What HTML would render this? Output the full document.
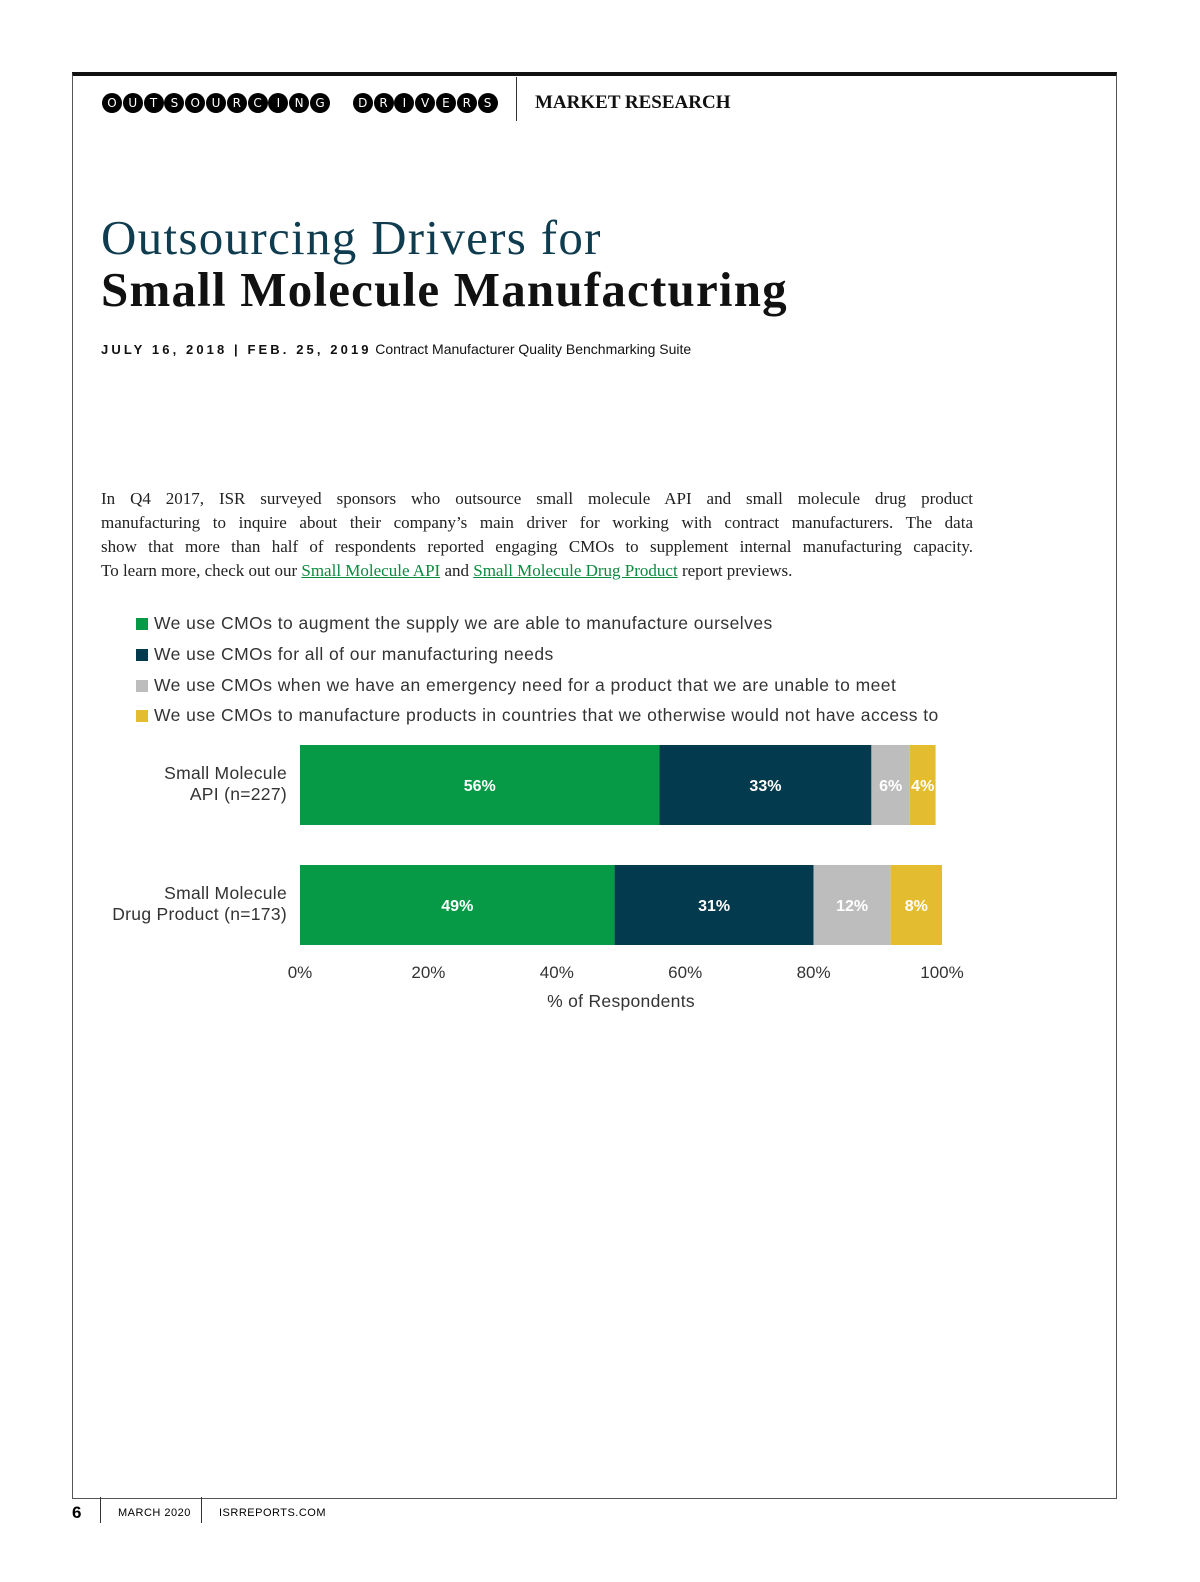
<!DOCTYPE html>
<html><head><meta charset="utf-8"><style>
body{margin:0;width:1200px;height:1582px;background:#fff;position:relative;font-family:"Liberation Sans",sans-serif;overflow:hidden}
.abs{position:absolute}
.c{display:inline-block;width:20px;height:20px;border-radius:50%;background:#000;color:#fff;font-size:12px;line-height:20px;text-align:center;margin-right:0.8px;font-family:"DejaVu Sans",sans-serif}
.serif{font-family:"Liberation Serif",serif}
.ln{font-size:17px;line-height:24px;height:24px;color:#222;text-align:justify;text-align-last:justify;white-space:nowrap;font-family:"Liberation Serif",serif}
.ln.last{text-align-last:left}
a{color:#0a8a3e}
.leg{font-size:17.5px;letter-spacing:0.45px;color:#333;position:absolute;left:136px}
.leg span{display:inline-block;width:12px;height:12px;margin-right:6px;vertical-align:-1px}
</style></head><body>
<div class="abs" style="left:72px;top:72px;width:1043px;height:1422px;border:1px solid #555;border-top:4px solid #111"></div>
<div class="abs" style="left:102px;top:93px;white-space:nowrap"><span class="c">O</span><span class="c">U</span><span class="c">T</span><span class="c">S</span><span class="c">O</span><span class="c">U</span><span class="c">R</span><span class="c">C</span><span class="c">I</span><span class="c">N</span><span class="c">G</span><span style="display:inline-block;width:22px"></span><span class="c">D</span><span class="c">R</span><span class="c">I</span><span class="c">V</span><span class="c">E</span><span class="c">R</span><span class="c">S</span></div>
<div class="abs" style="left:516px;top:77px;width:1px;height:44px;background:#333"></div>
<div class="abs serif" style="left:535px;top:92px;font-size:19px;font-weight:bold;color:#111">MARKET RESEARCH</div>
<div class="abs serif" style="left:101px;top:209px;font-size:49px;letter-spacing:1.3px;color:#0f3d4f">Outsourcing Drivers for</div>
<div class="abs serif" style="left:101px;top:261px;font-size:49px;letter-spacing:1.2px;font-weight:bold;color:#111">Small Molecule Manufacturing</div>
<div class="abs" style="left:101px;top:341px;font-size:13px;color:#111;white-space:nowrap"><b style="letter-spacing:3.1px">JULY 16, 2018 | FEB. 25, 2019</b> <span style="font-size:14px">Contract Manufacturer Quality Benchmarking Suite</span></div>
<div class="abs" style="left:101px;top:487px;width:872px">
<div class="ln">In Q4 2017, ISR surveyed sponsors who outsource small molecule API and small molecule drug product</div>
<div class="ln">manufacturing to inquire about their company’s main driver for working with contract manufacturers. The data</div>
<div class="ln">show that more than half of respondents reported engaging CMOs to supplement internal manufacturing capacity.</div>
<div class="ln last">To learn more, check out our <a style="text-decoration:underline">Small Molecule API</a> and <a style="text-decoration:underline">Small Molecule Drug Product</a> report previews.</div>
</div>
<div class="leg" style="top:613px"><span style="background:#069a47"></span>We use CMOs to augment the supply we are able to manufacture ourselves</div>
<div class="leg" style="top:644px"><span style="background:#033a4d"></span>We use CMOs for all of our manufacturing needs</div>
<div class="leg" style="top:675px"><span style="background:#bdbdbd"></span>We use CMOs when we have an emergency need for a product that we are unable to meet</div>
<div class="leg" style="top:705px"><span style="background:#e3bd2f"></span>We use CMOs to manufacture products in countries that we otherwise would not have access to</div>
<svg class="abs" style="left:0;top:0" width="1200" height="1582" id="chart"></svg>
<div class="abs" style="left:72px;top:1503px;font-size:17px;font-weight:bold">6</div>
<div class="abs" style="left:100px;top:1497px;width:1px;height:26px;background:#333"></div>
<div class="abs" style="left:118px;top:1507px;font-size:11px;letter-spacing:0.5px">MARCH 2020</div>
<div class="abs" style="left:201px;top:1497px;width:1px;height:26px;background:#333"></div>
<div class="abs" style="left:219px;top:1507px;font-size:11px;letter-spacing:0.5px">ISRREPORTS.COM</div>
<script>
const categories=[["Small Molecule","API (n=227)"],["Small Molecule","Drug Product (n=173)"]];
const augment=[56,49];
const allNeeds=[33,31];
const emergency=[6,12];
const countries=[4,8];
const ticks=[0,20,40,60,80,100];
const series=[augment,allNeeds,emergency,countries];
const colors=["#069a47","#033a4d","#bdbdbd","#e3bd2f"];
const names=["augment","all","emergency","countries"];
const svg=document.getElementById('chart');const NS="http://www.w3.org/2000/svg";
const x0=300,x1=942;const xs=v=>x0+(x1-x0)*v/100;
const rowTop=[745,865],bh=80;
function el(t,a,txt){const e=document.createElementNS(NS,t);for(const k in a)e.setAttribute(k,a[k]);if(txt!=null)e.textContent=txt;svg.appendChild(e);return e;}
categories.forEach((c,i)=>{
 let acc=0;const y=rowTop[i];
 series.forEach((s,j)=>{
  const r=el('rect',{x:xs(acc),y:y,width:xs(acc+s[i])-xs(acc),height:bh,fill:colors[j]});
  
  
  const t=el('text',{x:(xs(acc)+xs(acc+s[i]))/2,y:y+bh/2+6,'text-anchor':'middle','font-size':16,'font-weight':'bold',fill:'#fff','font-family':'Liberation Sans'},s[i]+'%');
  
  
  acc+=s[i];
 });
 c.forEach((ln,k)=>{const t=el('text',{x:287,y:y+34+k*21,'text-anchor':'end','font-size':17.5,'letter-spacing':0.3,fill:'#333','font-family':'Liberation Sans'},ln);
  
  });
});
ticks.forEach(v=>{const t=el('text',{x:xs(v),y:978,'text-anchor':'middle','font-size':17,fill:'#333','font-family':'Liberation Sans'},v+'%');
 
 });
const xt=el('text',{x:621,y:1007,'text-anchor':'middle','font-size':17.5,'letter-spacing':0.3,fill:'#333','font-family':'Liberation Sans'},'% of Respondents');


</script>
</body></html>
